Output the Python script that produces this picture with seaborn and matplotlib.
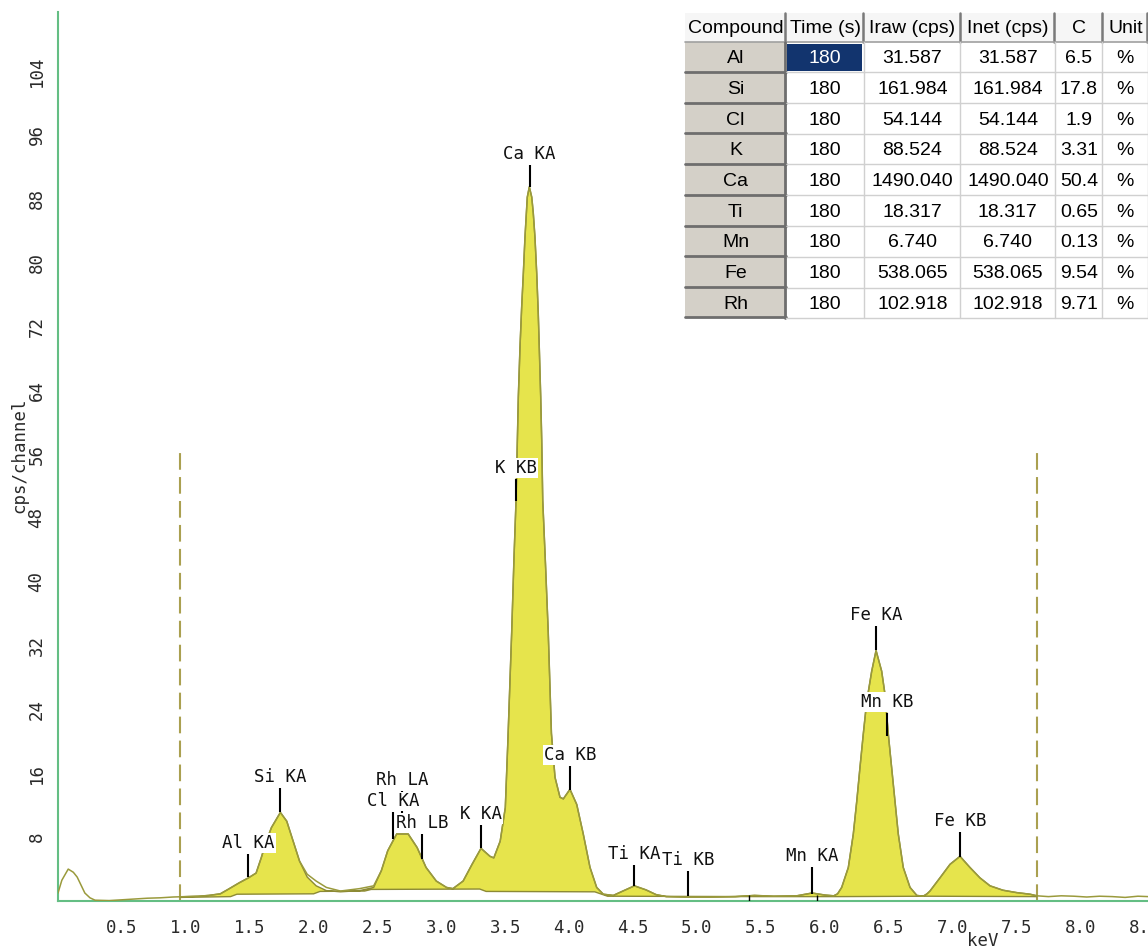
import numpy as np
import pandas as pd
import matplotlib
matplotlib.use("Agg")
import matplotlib.pyplot as plt
import seaborn as sns
from matplotlib.patches import Rectangle

# ---------------- data ----------------
energy_kev = [0.00, 0.03, 0.08, 0.12, 0.15, 0.21, 0.25, 0.29, 0.40, 0.50, 0.60, 0.70, 0.80,
              0.90, 0.955, 1.00, 1.10, 1.18, 1.27, 1.33, 1.42, 1.49, 1.55, 1.59, 1.63, 1.67,
              1.74, 1.79, 1.84, 1.89, 1.95, 2.02, 2.10, 2.21, 2.36, 2.47, 2.53, 2.58, 2.65,
              2.74, 2.81, 2.88, 2.96, 3.04, 3.09, 3.17, 3.24, 3.31, 3.38, 3.41, 3.46, 3.50,
              3.52, 3.550, 3.568, 3.584, 3.594, 3.602, 3.615, 3.628, 3.641, 3.654, 3.672,
              3.688, 3.707, 3.719, 3.732, 3.746, 3.758, 3.766, 3.777, 3.785, 3.793, 3.815,
              3.836, 3.861, 3.889, 3.928, 3.954, 4.006, 4.059, 4.110, 4.163, 4.215, 4.267,
              4.345, 4.42, 4.51, 4.60, 4.68, 4.76, 4.90, 5.10, 5.30, 5.45, 5.60, 5.78, 5.90,
              6.00, 6.07, 6.10, 6.132, 6.184, 6.223, 6.250, 6.275, 6.301, 6.328, 6.367, 6.401,
              6.445, 6.471, 6.497, 6.523, 6.549, 6.575, 6.614, 6.667, 6.72, 6.77, 6.80, 6.823,
              6.901, 6.980, 7.058, 7.136, 7.214, 7.293, 7.394, 7.502, 7.606, 7.66, 7.75, 7.85,
              7.95, 8.05, 8.15, 8.25, 8.35, 8.45, 8.53]
counts = [1.0, 2.6, 4.0, 3.6, 3.0, 1.0, 0.4, 0.1, 0.05, 0.15, 0.25, 0.35, 0.4,
          0.5, 0.52, 0.55, 0.6, 0.7, 0.9, 1.45, 2.3, 2.9, 3.5, 5.4, 7.5, 9.2,
          11.1, 10.0, 7.5, 5.0, 3.35, 2.5, 1.7, 1.25, 1.55, 1.9, 3.8, 6.3, 8.4,
          8.4, 6.7, 4.2, 2.5, 1.7, 1.55, 2.5, 4.6, 6.6, 5.6, 5.4, 7.5, 11.7,
          20.0, 33.7, 43.0, 50.2, 57.5, 63.2, 69.4, 74.4, 78.6, 83.2, 88.2,
          89.5, 88.2, 86.2, 83.2, 78.6, 73.6, 69.4, 63.2, 57.7, 50.2, 42.0,
          33.7, 21.0, 15.5, 13.0, 12.8, 14.0, 12.1, 8.4, 4.2, 1.7, 0.85,
          0.7, 1.25, 1.9, 1.4, 0.8, 0.55, 0.5, 0.5, 0.55, 0.7, 0.6, 0.65, 1.0,
          0.75, 0.65, 0.9, 1.7, 4.2, 8.4, 12.5, 16.7, 20.9, 25.0, 28.8, 31.4,
          28.8, 25.9, 20.9, 16.7, 12.5, 8.4, 4.2, 1.7, 0.7, 0.6, 0.9, 1.25,
          2.9, 4.6, 5.6, 4.2, 2.9, 1.9, 1.35, 1.05, 0.85, 0.65, 0.55, 0.65,
          0.6, 0.5, 0.6, 0.55, 0.45, 0.6, 0.55]

# fitted spectrum differs from the measured one only here
fit_overrides = {1.95: 3.0, 2.02: 1.9, 2.10: 1.3, 2.21: 1.15, 2.36: 1.3, 2.47: 1.7}

background_kev = [0.955, 1.35, 1.40, 2.00, 2.05, 2.40, 2.45, 3.30, 3.35, 4.20, 4.30, 5.50, 6.10, 6.80, 7.66]
background_counts = [0.45, 0.55, 0.85, 0.9, 1.2, 1.25, 1.45, 1.5, 1.2, 1.15, 0.6, 0.55, 0.55, 0.6, 0.55]

roi_bounds = [0.955, 7.66]
roi_top = 56.2
escape_marks = [5.41, 5.94]

line_names = ["Al KA", "Si KA", "Rh LA", "Cl KA", "Rh LB", "K KA", "Ca KA", "K KB",
              "Ca KB", "Ti KA", "Ti KB", "Mn KA", "Fe KA", "Mn KB", "Fe KB"]
line_kev = [1.49, 1.74, 2.69, 2.62, 2.85, 3.31, 3.69, 3.585, 4.01, 4.51, 4.93, 5.90, 6.40, 6.49, 7.06]
line_peak = [3.0, 11.1, 8.6, 7.8, 5.3, 6.6, 89.5, 50.1, 13.9, 1.9, 0.6, 0.9, 31.4, 20.7, 5.5]
line_stem = [2.9, 3.0, 5.2, 3.3, 3.1, 2.9, 2.75, 2.75, 3.0, 2.6, 3.1, 3.4, 3.0, 2.9, 3.1]

x_ticks = [0.5, 1.0, 1.5, 2.0, 2.5, 3.0, 3.5, 4.0, 4.5, 5.0, 5.5, 6.0, 6.5, 7.0, 7.5, 8.0, 8.5]
y_ticks = [8, 16, 24, 32, 40, 48, 56, 64, 72, 80, 88, 96, 104]

tbl_header = ["Compound", "Time (s)", "Iraw (cps)", "Inet (cps)", "C", "Unit"]
tbl_compound = ["Al", "Si", "Cl", "K", "Ca", "Ti", "Mn", "Fe", "Rh"]
tbl_time = [180, 180, 180, 180, 180, 180, 180, 180, 180]
tbl_iraw = [31.587, 161.984, 54.144, 88.524, 1490.040, 18.317, 6.740, 538.065, 102.918]
tbl_inet = [31.587, 161.984, 54.144, 88.524, 1490.040, 18.317, 6.740, 538.065, 102.918]
tbl_conc = ["6.5", "17.8", "1.9", "3.31", "50.4", "0.65", "0.13", "9.54", "9.71"]
tbl_unit = ["%", "%", "%", "%", "%", "%", "%", "%", "%"]

# ---------------- styling ----------------
sns.set_theme(style="white")
plt.rcParams['font.family'] = ['DejaVu Sans Mono', 'DejaVu Sans']

GREEN = '#64be84'
OLIVE = '#9a9a3c'
YELLOW = '#e6e44c'
FILL_EDGE = '#8c8a34'
DASH = '#aaa050'

W, H = 1148, 949
fig = plt.figure(figsize=(W / 100, H / 100), dpi=100)
ax = fig.add_axes([58 / W, (H - 901) / H, 1090 / W, 889 / H])

spec = pd.DataFrame({"keV": energy_kev, "cps": counts})

# fitted region (yellow)
roi = spec[(spec.keV >= roi_bounds[0]) & (spec.keV <= roi_bounds[1])].copy()
roi["fit"] = [fit_overrides.get(round(e, 3), c) for e, c in zip(roi.keV, roi.cps)]
poly_x = np.concatenate([roi.keV.values, np.array(background_kev)[::-1]])
poly_y = np.concatenate([roi.fit.values, np.array(background_counts)[::-1]])
ax.fill(poly_x, poly_y, facecolor=YELLOW, edgecolor=FILL_EDGE, linewidth=1.0, zorder=2)

# measured spectrum
sns.lineplot(data=spec, x="keV", y="cps", ax=ax, color=OLIVE, linewidth=1.1,
             estimator=None, sort=False, zorder=3)

# ROI bounds
ax.vlines(roi_bounds, 0, roi_top, colors=DASH, linewidth=1.5,
          linestyles=[(0, (8, 3.5))], zorder=1)
ax.vlines(escape_marks, 0, 0.8, colors='black', linewidth=1.0, zorder=4)

# peak labels
for name, e, h, s in zip(line_names, line_kev, line_peak, line_stem):
    ax.plot([e, e], [h, h + s], color='black', linewidth=1.5, zorder=4, solid_capstyle='butt')
for name, e, h, s in zip(line_names, line_kev, line_peak, line_stem):
    ax.text(e, h + s + 0.25, name, ha='center', va='bottom', fontsize=12.5,
            color='#111111', zorder=5,
            bbox=dict(facecolor='white', edgecolor='none', pad=0.6))

ax.set_xlim(0, 1090 / 127.8)
ax.set_ylim(0, 889 / 7.98)
ax.set_xticks(x_ticks)
ax.set_xticklabels([f"{t:.1f}" for t in x_ticks])
ax.set_yticks(y_ticks)
ax.set_yticklabels([str(t) for t in y_ticks], rotation=90, va='center')

for side in ['top', 'right']:
    ax.spines[side].set_visible(False)
for side in ['left', 'bottom']:
    ax.spines[side].set_color(GREEN)
    ax.spines[side].set_linewidth(1.5)
ax.tick_params(axis='both', direction='out', length=6, width=1.5, color=GREEN,
               labelsize=12.5, labelcolor='#2a2a2a')
ax.tick_params(axis='x', pad=7)
ax.tick_params(axis='y', pad=3)
ax.grid(False)

ax.set_xlabel("keV", fontsize=12.5, color='#2a2a2a')
ax.set_ylabel("cps/channel", fontsize=12.5, color='#2a2a2a')
ax.xaxis.set_label_coords((983 - 58) / 1090, -(932 - 901) / 889)
ax.yaxis.set_label_coords((28 - 58) / 1090, (901 - 455) / 889)

# ---------------- results table ----------------
tx0, tx1, ty0, ty1 = 684, 1148, 12, 320
tax = fig.add_axes([tx0 / W, (H - ty1) / H, (tx1 - tx0) / W, (ty1 - ty0) / H])
tax.set_xlim(tx0, tx1)
tax.set_ylim(ty1, ty0)
tax.axis('off')

col_edges = [685, 786, 864.3, 960.7, 1055, 1102.7, 1148]
row_edges = [12.7, 42.3, 72.7, 104, 134.3, 165, 196, 226.7, 257.3, 288.3, 318.3]
tfont = dict(family='Liberation Sans', fontsize=14, color='black')

# background
tax.add_patch(Rectangle((685, 12.7), 1148 - 685, 318.3 - 12.7, facecolor='white',
                        edgecolor='none', zorder=0))
# header
for j, htxt in enumerate(tbl_header):
    x0, x1 = col_edges[j], col_edges[j + 1]
    tax.add_patch(Rectangle((x0, row_edges[0]), x1 - x0, row_edges[1] - row_edges[0],
                            facecolor='#f6f6f6', edgecolor='none', zorder=1))
    tax.text((x0 + x1) / 2, (row_edges[0] + row_edges[1]) / 2 + 1, htxt,
             ha='center', va='center', zorder=3, **tfont)
    tax.plot([x1 - 1, x1 - 1], [row_edges[0], row_edges[1]], color='#7a7a7a', lw=1.8, zorder=2)
tax.plot([685, 1148], [row_edges[1], row_edges[1]], color='#a0a0a0', lw=1.2, zorder=2)

rows = list(zip(tbl_compound, tbl_time, tbl_iraw, tbl_inet, tbl_conc, tbl_unit))
for i, (cmp_, t, ir, inet, c, u) in enumerate(rows):
    y0, y1 = row_edges[i + 1], row_edges[i + 2]
    yc = (y0 + y1) / 2 + 1
    # compound (gray) cell
    tax.add_patch(Rectangle((col_edges[0], y0), col_edges[1] - col_edges[0], y1 - y0,
                            facecolor='#d4d0c8', edgecolor='none', zorder=1))
    tax.plot([col_edges[0], col_edges[1]], [y1 - 1, y1 - 1], color='#6e6e6e', lw=2.0, zorder=2)
    tax.plot([col_edges[1] - 1, col_edges[1] - 1], [y0, y1], color='#6e6e6e', lw=2.0, zorder=2)
    tax.text((col_edges[0] + col_edges[1]) / 2, yc, cmp_, ha='center', va='center',
             zorder=3, **tfont)
    vals = [str(t), f"{ir:.3f}", f"{inet:.3f}", c, u]
    for j, v in enumerate(vals):
        x0, x1 = col_edges[j + 1], col_edges[j + 2]
        color = 'black'
        if i == 0 and j == 0:
            tax.add_patch(Rectangle((x0 + 1, y0 + 1.5), x1 - x0 - 3, y1 - y0 - 3,
                                    facecolor='#12346e', edgecolor='none', zorder=1))
            color = 'white'
        tax.text((x0 + x1) / 2, yc, v, ha='center', va='center', zorder=3,
                 family='Liberation Sans', fontsize=14, color=color)
        tax.plot([x1 - 0.5, x1 - 0.5], [y0, y1], color='#d0d0d0', lw=1.0, zorder=2)
    tax.plot([col_edges[1], 1148], [y1 - 0.5, y1 - 0.5], color='#d0d0d0', lw=1.0, zorder=2)

fig.savefig("out.png", dpi=100)
